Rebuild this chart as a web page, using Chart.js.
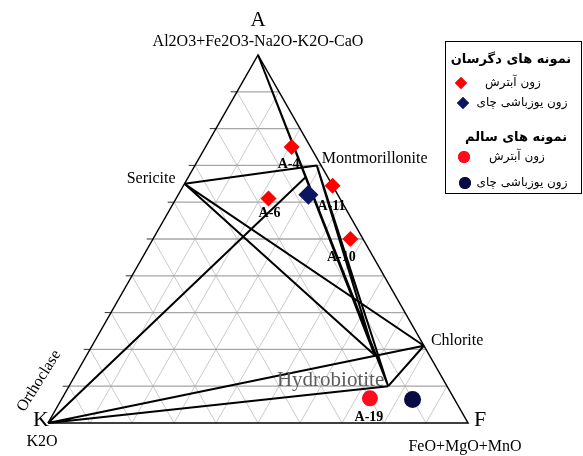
<!DOCTYPE html>
<html>
<head>
<meta charset="utf-8">
<script src="https://cdn.jsdelivr.net/npm/chart.js@4.4.0/dist/chart.umd.min.js"></script>
<style>
html, body { margin: 0; padding: 0; background: #fff; }
#wrap { width: 583px; height: 456px; }
</style>
</head>
<body>
<div id="wrap"><canvas id="myChart" width="583" height="456"></canvas></div>
<script>
// compositions in percent: A = Al2O3+Fe2O3-Na2O-K2O-CaO, K = K2O, F = FeO+MgO+MnO
var minerals = ['Montmorillonite', 'Sericite', 'Chlorite', 'Hydrobiotite'];
var mineralA = [70, 65, 21, 10];
var mineralK = [1, 35, 0, 14];
var mineralF = [29, 0, 79, 76];

// unlabelled junctions where tie lines meet
var junctions = ['P', 'Q'];
var junctionA = [18.5, 67];
var junctionK = [13, 5];
var junctionF = [68.5, 28];

var tieLines = [
  ['A', 'Hydrobiotite'], ['A', 'P'],
  ['Montmorillonite', 'Hydrobiotite'], ['Montmorillonite', 'P'],
  ['Sericite', 'Montmorillonite'], ['Sericite', 'Chlorite'], ['Sericite', 'P'],
  ['K', 'Q'], ['K', 'Chlorite'], ['K', 'Hydrobiotite'],
  ['Chlorite', 'Hydrobiotite']
];

// altered samples (نمونه های دگرسان)
var altArgNames = ['A-4', 'A-11', 'A-6', 'A-10'];
var altArgA = [75, 64.5, 61, 50];
var altArgK = [4.5, 0, 17, 3];
var altArgF = [20.5, 35.5, 22, 47];

var altYuzA = [62];
var altYuzK = [7];
var altYuzF = [31];

// fresh samples (نمونه های سالم)
var freshArgNames = ['A-19'];
var freshArgA = [6.7];
var freshArgK = [20];
var freshArgF = [73.3];

var freshYuzA = [6.4];
var freshYuzK = [10];
var freshYuzF = [83.6];

var gridTicks = [10, 20, 30, 40, 50, 60, 70, 80, 90];

function toXY(a, k, f) {
  var s = a + k + f;
  a = a * 100 / s; f = f * 100 / s;
  return { x: f + a / 2, y: a };
}

var nodes = { A: toXY(100, 0, 0), K: toXY(0, 100, 0), F: toXY(0, 0, 100) };
minerals.forEach(function (m, i) { nodes[m] = toXY(mineralA[i], mineralK[i], mineralF[i]); });
junctions.forEach(function (m, i) { nodes[m] = toXY(junctionA[i], junctionK[i], junctionF[i]); });

var GAP = { x: NaN, y: NaN };
var hGrid = [], lGrid = [], rGrid = [], ticks = [], ties = [];
gridTicks.forEach(function (t) {
  hGrid.push(toXY(t, 100 - t, 0), toXY(t, 0, 100 - t), GAP);
  lGrid.push(toXY(0, 100 - t, t), toXY(100 - t, 0, t), GAP);
  rGrid.push(toXY(0, t, 100 - t), toXY(100 - t, t, 0), GAP);
  ticks.push({ x: t / 2, y: t }, { x: t / 2 - 1.5, y: t }, GAP);
});
tieLines.forEach(function (p) { ties.push(nodes[p[0]], nodes[p[1]], GAP); });

function pts(A, K, F) { return A.map(function (a, i) { return toXY(a, K[i], F[i]); }); }

function lineSet(data, color, width, order) {
  return { data: data, showLine: true, borderColor: color, borderWidth: width,
    pointRadius: 0, pointHoverRadius: 0, fill: false, tension: 0, spanGaps: false, order: order, clip: false };
}
function pointSet(data, style, color, radius) {
  return { data: data, showLine: false, pointStyle: style, pointRadius: radius, pointHoverRadius: radius,
    backgroundColor: color, borderColor: color, borderWidth: 0, order: 0, clip: false };
}

var serif = '"Liberation Serif", "Times New Roman", serif';
var persian = '"DejaVu Sans", sans-serif';

var labelPlugin = {
  id: 'labels',
  afterDatasetsDraw: function (chart) {
    var ctx = chart.ctx, xs = chart.scales.x, ys = chart.scales.y;
    function px(p) { return [xs.getPixelForValue(p.x), ys.getPixelForValue(p.y)]; }
    function text(s, x, y, font, align, color) {
      ctx.font = font; ctx.textAlign = align || 'center'; ctx.textBaseline = 'middle';
      ctx.fillStyle = color || '#000'; ctx.fillText(s, x, y);
    }
    ctx.save();
    // sample labels
    var offs = [[-3, 17], [-1, 21], [1, 15], [-9, 18]];
    pts(altArgA, altArgK, altArgF).forEach(function (p, i) {
      var q = px(p);
      text(altArgNames[i], q[0] + offs[i][0], q[1] + offs[i][1], 'bold 14px ' + serif);
    });
    pts(freshArgA, freshArgK, freshArgF).forEach(function (p, i) {
      var q = px(p);
      text(freshArgNames[i], q[0] - 1, q[1] + 19, 'bold 14px ' + serif);
    });
    // mineral labels
    var m = minerals.map(function (n) { return px(nodes[n]); });
    text(minerals[0], m[0][0] + 5, m[0][1] - 7, '16px ' + serif, 'left');
    text(minerals[1], m[1][0] - 9, m[1][1] - 5, '16px ' + serif, 'right');
    text(minerals[2], m[2][0] + 7, m[2][1] - 5, '16px ' + serif, 'left');
    text(minerals[3], m[3][0] - 4, m[3][1] - 6, '21px ' + serif, 'right', '#5c5c5c');
    // vertices
    var a = px(nodes.A), k = px(nodes.K), f = px(nodes.F);
    text('A', a[0], a[1] - 35, '21px ' + serif);
    text('Al2O3+Fe2O3-Na2O-K2O-CaO', a[0], a[1] - 13, '16px ' + serif);
    text('K', k[0] + 1, k[1] - 3, '22px ' + serif, 'right');
    text('K2O', k[0] - 6, k[1] + 19, '16px ' + serif);
    text('F', f[0] + 6, f[1] - 3, '22px ' + serif, 'left');
    text('FeO+MgO+MnO', f[0] - 3, f[1] + 24, '16px ' + serif);
    ctx.save();
    ctx.translate(k[0] - 9, k[1] - 42);
    ctx.rotate(-58 * Math.PI / 180);
    text('Orthoclase', 0, 0, '16px ' + serif);
    ctx.restore();

    // legend
    ctx.strokeStyle = '#000'; ctx.lineWidth = 1;
    ctx.strokeRect(445.5, 41.5, 136, 152);
    text('نمونه های دگرسان', 511, 60, 'bold 13px ' + persian);
    text('زون آبترش', 513, 83, '12px ' + persian);
    text('زون یوزباشی چای', 522, 103, '12px ' + persian);
    text('نمونه های سالم', 516, 138, 'bold 13px ' + persian);
    text('زون آبترش', 517, 157, '12px ' + persian);
    text('زون یوزباشی چای', 522, 183, '12px ' + persian);
    var ds = chart.data.datasets;
    [[ds[6], 461, 83], [ds[7], 463, 103], [ds[8], 464, 157], [ds[9], 465, 183]].forEach(function (e) {
      ctx.fillStyle = e[0].backgroundColor;
      Chart.helpers.drawPoint(ctx, { pointStyle: e[0].pointStyle, radius: 6, rotation: 0, borderWidth: 0 }, e[1], e[2]);
      ctx.fill();
    });
    ctx.restore();
  }
};

var ctx = document.getElementById('myChart').getContext('2d');
var myChart = new Chart(ctx, {
  type: 'scatter',
  data: {
    datasets: [
      lineSet(lGrid, '#cacaca', 1, 5),
      lineSet(rGrid, '#cacaca', 1, 5),
      lineSet(hGrid, '#a6a6a6', 1.3, 4),
      lineSet(ticks, '#333', 1, 4),
      lineSet([nodes.K, nodes.F, nodes.A, nodes.K], '#000', 1.5, 3),
      lineSet(ties, '#000', 2, 2),
      pointSet(pts(altArgA, altArgK, altArgF), 'rectRot', '#ff0000', 8),
      pointSet(pts(altYuzA, altYuzK, altYuzF), 'rectRot', '#0b1560', 10),
      pointSet(pts(freshArgA, freshArgK, freshArgF), 'circle', '#ff0a1e', 8),
      pointSet(pts(freshYuzA, freshYuzK, freshYuzF), 'circle', '#0a0a45', 8.5)
    ]
  },
  options: {
    responsive: false,
    animation: false,
    layout: { padding: { left: 48, right: 115, top: 55, bottom: 33 } },
    scales: {
      x: { type: 'linear', min: 0, max: 100, display: false },
      y: { type: 'linear', min: 0, max: 100, display: false }
    },
    plugins: { legend: { display: false }, tooltip: { enabled: false } }
  },
  plugins: [labelPlugin]
});
</script>
</body>
</html>
